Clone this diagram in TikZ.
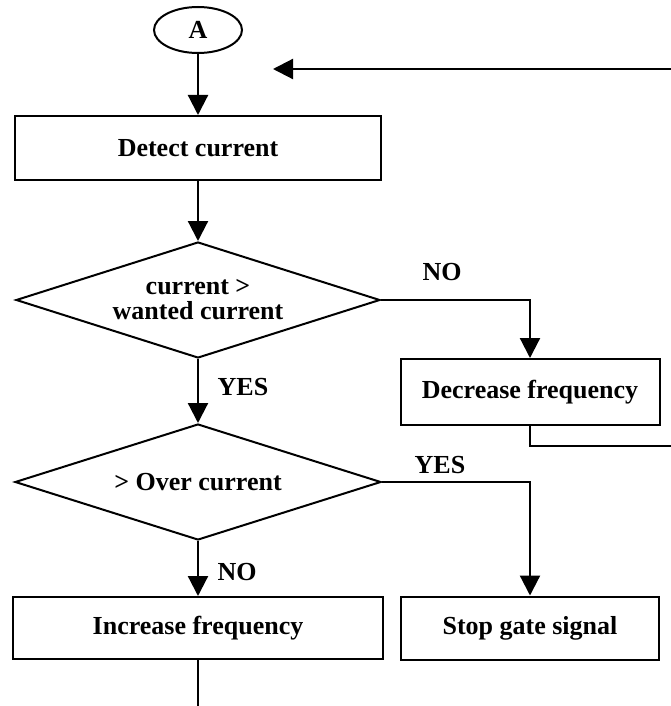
\documentclass[tikz,border=0pt]{standalone}
\usepackage{fontspec}
\setmainfont{Liberation Serif}
\usetikzlibrary{shapes.geometric,arrows.meta}
\begin{document}
\begin{tikzpicture}[x=1pt,y=-1pt,
  every node/.style={font=\fontsize{26}{25}\selectfont\bfseries},
  line/.style={line width=2.2pt},
  arr/.style={line width=2.2pt,-{Triangle[length=20pt,width=20pt]}},
  procbox/.style={draw,line width=2pt,rectangle,inner sep=0pt},
  decision/.style={draw,line width=2pt,diamond,aspect=3.13,inner sep=0pt,align=center},
  lbl/.style={inner sep=0pt}]
\useasboundingbox (0,0) rectangle (671,706);
\node[draw,line width=2pt,ellipse,minimum width=88pt,minimum height=46pt,inner sep=0pt] (A) at (198,30) {A};
\node[procbox,minimum width=366pt,minimum height=64pt] (detect) at (198,148) {Detect current};
\node[decision,minimum width=364pt,minimum height=116pt] (d1) at (198,300) {current >\\wanted current};
\node[procbox,minimum width=259pt,minimum height=66pt] (dec) at (530,392) {Decrease frequency};
\node[decision,minimum width=366pt,minimum height=116pt] (d2) at (198,482) {> Over current};
\node[procbox,minimum width=370pt,minimum height=62pt] (inc) at (198,628) {Increase frequency};
\node[procbox,minimum width=258pt,minimum height=63pt] (stop) at (530,628) {Stop gate signal};
\node[lbl] (no1) at (442,272) {NO};
\node[lbl] (yes1) at (243,387) {YES};
\node[lbl] (yes2) at (440,465) {YES};
\node[lbl] (no2) at (237,572) {NO};
\draw[arr] (A) -- (detect);
\draw[arr] (detect) -- (d1);
\draw[arr] (d1) -- (d2);
\draw[arr] (d2) -- (inc);
\draw[arr] (d1.east) -| (dec.north);
\draw[arr] (d2.east) -| (stop.north);
\coordinate (fbR) at (671,69);
\coordinate (fbT) at (273,69);
\draw[arr] (fbR) -- (fbT);
\coordinate (decR) at (671,446);
\draw[line] (dec.south) |- (decR);
\coordinate (incB) at (198,706);
\draw[line] (inc.south) -- (incB);
\end{tikzpicture}
\end{document}
